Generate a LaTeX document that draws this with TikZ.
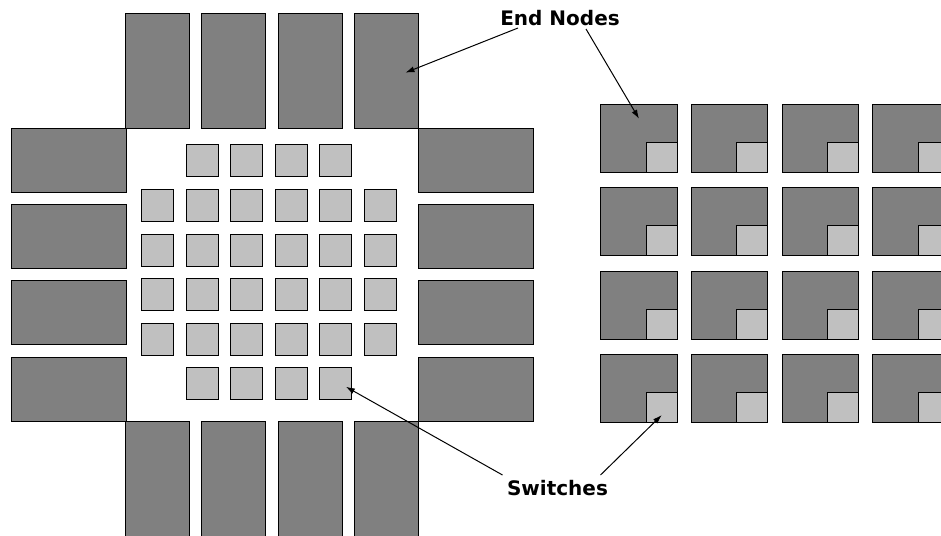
\documentclass[tikz,border=0pt]{standalone}
\usepackage{fontspec}
\setmainfont{DejaVu Sans}
\usetikzlibrary{arrows.meta}

\definecolor{nodegray}{HTML}{808080}
\definecolor{switchgray}{HTML}{C0C0C0}

\begin{document}
\begin{tikzpicture}[x=1pt, y=-1pt, >={Latex[length=9pt,width=6pt]},
    endnode/.style={draw, line width=0.9pt, fill=nodegray, inner sep=0pt, anchor=north west},
    tallnode/.style={endnode, minimum width=64pt, minimum height=115pt},
    widenode/.style={endnode, minimum width=115pt, minimum height=64pt},
    switch/.style={draw, line width=0.9pt, fill=switchgray, inner sep=0pt, minimum size=32pt, anchor=north west},
    callout/.style={inner sep=0pt, font=\fontsize{20}{24}\selectfont\bfseries},
    ptr/.style={->, line width=1pt}]
    % picture frame (the last column is cut off at the right edge)
    \clip (0,0) rectangle (941,535);

    % end nodes around the switch block
    \foreach \i in {1,...,4} {
        \node[tallnode] (top\i) at ({125+76.33*(\i-1)}, 12.7) {};
        \node[tallnode] (bot\i) at ({125+76.33*(\i-1)}, 420.7) {};
        \node[widenode] (left\i) at (10.7, {127.7+76.33*(\i-1)}) {};
        \node[widenode] (right\i) at (418, {127.7+76.33*(\i-1)}) {};
    }

    % switches in the middle (corners left empty)
    \foreach \r in {1,...,4}
        \foreach \c in {0,...,5}
            \node[switch] (sw-\r-\c) at ({141+44.6*\c}, {144.3+44.6*\r}) {};
    \foreach \r in {0,5}
        \foreach \c in {1,...,4}
            \node[switch] (sw-\r-\c) at ({141+44.6*\c}, {144.3+44.6*\r}) {};

    % end nodes with their own switch
    \foreach \r in {0,...,3}
        \foreach \c in {0,...,3} {
            \node[endnode, minimum width=76.5pt, minimum height=68pt] (end-\r-\c)
                at ({600.3+90.67*\c}, {104.3+83.1*\r}) {};
            \node[switch, minimum width=31pt, minimum height=30pt, anchor=south east]
                (esw-\r-\c) at (end-\r-\c.south east) {};
        }

    % labels
    \node[callout, anchor=base] (endlbl) at (560,26) {End Nodes};
    \node[callout, anchor=base] (swlbl) at (557.5,495) {Switches};

    % arrow tips
    \coordinate (endtipa) at ([shift={(19,2)}]top4.center);
    \coordinate (endtipb) at ([shift={(0,-20)}]end-0-0.center);
    \coordinate (swtipa) at ([shift={(10,3)}]sw-5-4.center);
    \coordinate (swtipb) at ([shift={(0,8)}]esw-3-0.center);

    \draw[ptr] ([shift={(-42,2)}]endlbl.base) -- (endtipa);
    \draw[ptr] ([shift={(26,3)}]endlbl.base) -- (endtipb);
    \draw[ptr] ([shift={(-55,-20)}]swlbl.base) -- (swtipa);
    \draw[ptr] ([shift={(43,-20)}]swlbl.base) -- (swtipb);
\end{tikzpicture}
\end{document}
